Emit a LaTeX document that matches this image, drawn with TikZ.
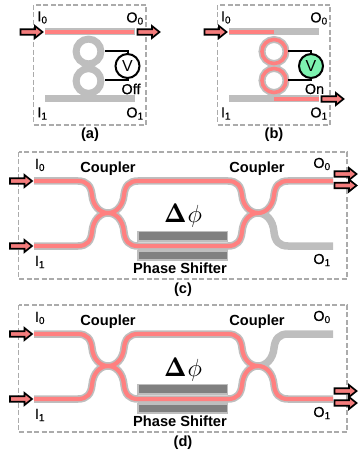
\documentclass[tikz,border=0pt]{standalone}
\usepackage{fontspec}
\setmainfont{Liberation Sans}
\newfontfamily\semifont[FakeBold=0.35]{Liberation Sans}
\definecolor{wg}{HTML}{BEBEBE}
\definecolor{lit}{HTML}{FF8080}
\definecolor{arrowred}{HTML}{F47C7C}
\definecolor{frame}{HTML}{ABABAB}
\definecolor{shifter}{HTML}{808080}
\definecolor{vgreen}{HTML}{7DF2B0}
\tikzset{
  panelbox/.style={draw=frame,line width=1.3bp,dash pattern=on 5bp off 2.5bp},
  guide/.style={draw=wg,line width=7.5bp,line cap=butt},
  glow/.style={draw=lit,line width=4.2bp,line cap=butt},
  flatguide/.style={draw=wg,line width=7bp,line cap=butt},
  flatglow/.style={draw=lit,line width=4.4bp,line cap=butt},
  ringguide/.style={draw=wg,line width=7bp},
  ringglow/.style={draw=lit,line width=3.6bp},
  wire/.style={draw=black,line width=2bp},
  meter/.style={circle,draw=black,line width=2bp,minimum size=24bp,inner sep=0pt,font=\fontsize{16}{16}\selectfont},
  port/.style={font=\fontsize{14.5}{14.5}\selectfont\semifont,inner sep=0pt},
  bold label/.style={font=\fontsize{14.7}{14.7}\selectfont\bfseries,inner sep=0pt},
  shifterbar/.style={fill=shifter,draw=wg,line width=1.5bp},
  inarrow/.style={fill=arrowred,draw=black,line width=1.7bp,line join=miter},
  phase/.style={inner sep=0pt,anchor=base}
}
% flow arrow with its tip at the given point
\newcommand{\flowarrow}[2]{%
  \draw[inarrow] (#1-22,#2-2.8) -- (#1-7.5,#2-2.8) -- (#1-7.5,#2-6) -- (#1,#2) -- (#1-7.5,#2+6) -- (#1-7.5,#2+2.8) -- (#1-22,#2+2.8) -- cycle;}
\newcommand{\phasetext}{{\fontsize{27}{27}\fontfamily{lmr}\bfseries\selectfont Δ}\hspace{1bp}{\fontsize{27}{27}\selectfont$\phi$}}
% paths of the interferometer
\newcommand{\inUp}{(34,181) -- (78,181) .. controls (87,181) and (91,186) .. (92,195) .. controls (93,206) and (100,213) .. (108,213)}
\newcommand{\inDown}{(34,246) -- (78,246) .. controls (87,246) and (91,241) .. (92,232) .. controls (93,220) and (100,213) .. (108,213)}
\newcommand{\armUp}{(108,213) .. controls (116,213) and (123,206) .. (124,195) .. controls (125,186) and (129,181) .. (138,181) -- (228,181) .. controls (237,181) and (241,186) .. (242,195) .. controls (243,206) and (250,213) .. (258,213)}
\newcommand{\armDown}{(108,213) .. controls (116,213) and (123,220) .. (124,232) .. controls (125,241) and (129,246) .. (138,246) -- (228,246) .. controls (237,246) and (241,241) .. (242,232) .. controls (243,220) and (250,213) .. (258,213)}
\newcommand{\outUp}{(258,213) .. controls (266,213) and (273,206) .. (274,195) .. controls (275,186) and (279,181) .. (288,181) -- (333,181)}
\newcommand{\outDown}{(258,213) .. controls (266,213) and (273,220) .. (274,232) .. controls (275,241) and (279,246) .. (288,246) -- (333,246)}
\begin{document}
\begin{tikzpicture}[x=1bp,y=-1bp]
\useasboundingbox (0,0) rectangle (359,453);
% ---------- panel (a)
\draw[panelbox] (33.5,5) rectangle (146,125);
\draw[flatguide] (45,32) -- (135,32);
\draw[flatguide] (45,99) -- (135,99);
\draw[flatglow] (45,32) -- (134,32);
\draw[ringguide] (88.5,51.5) circle (12.4bp);
\draw[ringguide] (88.5,81) circle (12.4bp);
\node[meter] (va) at (127.5,66) {V};
\coordinate (ra1) at (105,50.7);
\coordinate (ra2) at (105,80.3);
\draw[wire] (ra1) -| (va.north);
\draw[wire] (ra2) -| (va.south);
\flowarrow{42.5}{32}
\flowarrow{159.5}{32}
\node[port] (a-i0) at (42.5,17.5) {I\textsubscript{0}};
\node[port] (a-o0) at (135,18.5) {O\textsubscript{0}};
\node[port] (a-i1) at (42.5,113.5) {I\textsubscript{1}};
\node[port] (a-o1) at (135,113.5) {O\textsubscript{1}};
\node[port] (a-off) at (131,89) {Off};
\node[bold label] (a-cap) at (90,135) {(a)};
% ---------- panel (b)
\draw[panelbox] (217.5,5) rectangle (330,125);
\draw[flatguide] (229,32) -- (319,32);
\draw[flatguide] (229,99) -- (319,99);
\draw[flatglow] (229,32) -- (274,32);
\draw[flatglow] (274,99) -- (319,99);
\draw[ringguide] (274,51.5) circle (12bp);
\draw[ringguide] (274,80.5) circle (12bp);
\draw[ringglow] (274,51.5) circle (12bp);
\draw[ringglow] (274,80.5) circle (12bp);
\node[meter,fill=vgreen] (vb) at (311,66) {V};
\coordinate (rb1) at (288,50.7);
\coordinate (rb2) at (288,80.3);
\draw[wire] (rb1) -| (vb.north);
\draw[wire] (rb2) -| (vb.south);
\flowarrow{226.5}{32}
\flowarrow{343.5}{99}
\node[port] (b-i0) at (226,17.5) {I\textsubscript{0}};
\node[port] (b-o0) at (319,18.5) {O\textsubscript{0}};
\node[port] (b-i1) at (226,113.5) {I\textsubscript{1}};
\node[port] (b-o1) at (319,113.5) {O\textsubscript{1}};
\node[port] (b-on) at (314.5,89) {On};
\node[bold label] (b-cap) at (274,135) {(b)};
% ---------- panel (c)
\begin{scope}
\draw[panelbox] (18.5,152) rectangle (347,279);
\draw[shifterbar] (138,231.5) rectangle (227.5,241);
\draw[shifterbar] (138,251) rectangle (227.5,260);
\draw[guide] \inUp;
\draw[guide] \inDown;
\draw[guide] \armUp;
\draw[guide] \armDown;
\draw[guide] \outUp;
\draw[guide] \outDown;
\draw[glow] \inUp;
\draw[glow] \inDown;
\draw[glow] \armUp;
\draw[glow] \armDown;
\draw[glow] \outUp;
\flowarrow{32}{181}
\flowarrow{32}{246}
\flowarrow{356.5}{174}
\flowarrow{356.5}{185.5}
\node[port] (c-i0) at (40,165) {I\textsubscript{0}};
\node[port] (c-i1) at (40,262) {I\textsubscript{1}};
\node[port] (c-o0) at (322,164) {O\textsubscript{0}};
\node[port] (c-o1) at (322,260) {O\textsubscript{1}};
\node[bold label] (c-c1) at (108,169) {Coupler};
\node[bold label] (c-c2) at (257,169) {Coupler};
\node[bold label] (c-ps) at (180,268) {Phase Shifter};
\node[phase] (c-dp) at (183,223) {\phasetext};
\node[bold label] (c-cap) at (183,290) {(c)};
\end{scope}
% ---------- panel (d)
\begin{scope}[yshift=-153bp]
\draw[panelbox] (18.5,152) rectangle (347,279);
\draw[shifterbar] (138,231.5) rectangle (227.5,241);
\draw[shifterbar] (138,251) rectangle (227.5,260);
\draw[guide] \inUp;
\draw[guide] \inDown;
\draw[guide] \armUp;
\draw[guide] \armDown;
\draw[guide] \outUp;
\draw[guide] \outDown;
\draw[glow] \inUp;
\draw[glow] \inDown;
\draw[glow] \armUp;
\draw[glow] \armDown;
\draw[glow] \outDown;
\flowarrow{32}{181}
\flowarrow{32}{246}
\flowarrow{356.5}{238}
\flowarrow{356.5}{250}
\node[port] (d-i0) at (40,165) {I\textsubscript{0}};
\node[port] (d-i1) at (40,262) {I\textsubscript{1}};
\node[port] (d-o0) at (322,164) {O\textsubscript{0}};
\node[port] (d-o1) at (322,260) {O\textsubscript{1}};
\node[bold label] (d-c1) at (108,169) {Coupler};
\node[bold label] (d-c2) at (257,169) {Coupler};
\node[bold label] (d-ps) at (180,268) {Phase Shifter};
\node[phase] (d-dp) at (183,223) {\phasetext};
\node[bold label] (d-cap) at (183,290) {(d)};
\end{scope}
\end{tikzpicture}
\end{document}
